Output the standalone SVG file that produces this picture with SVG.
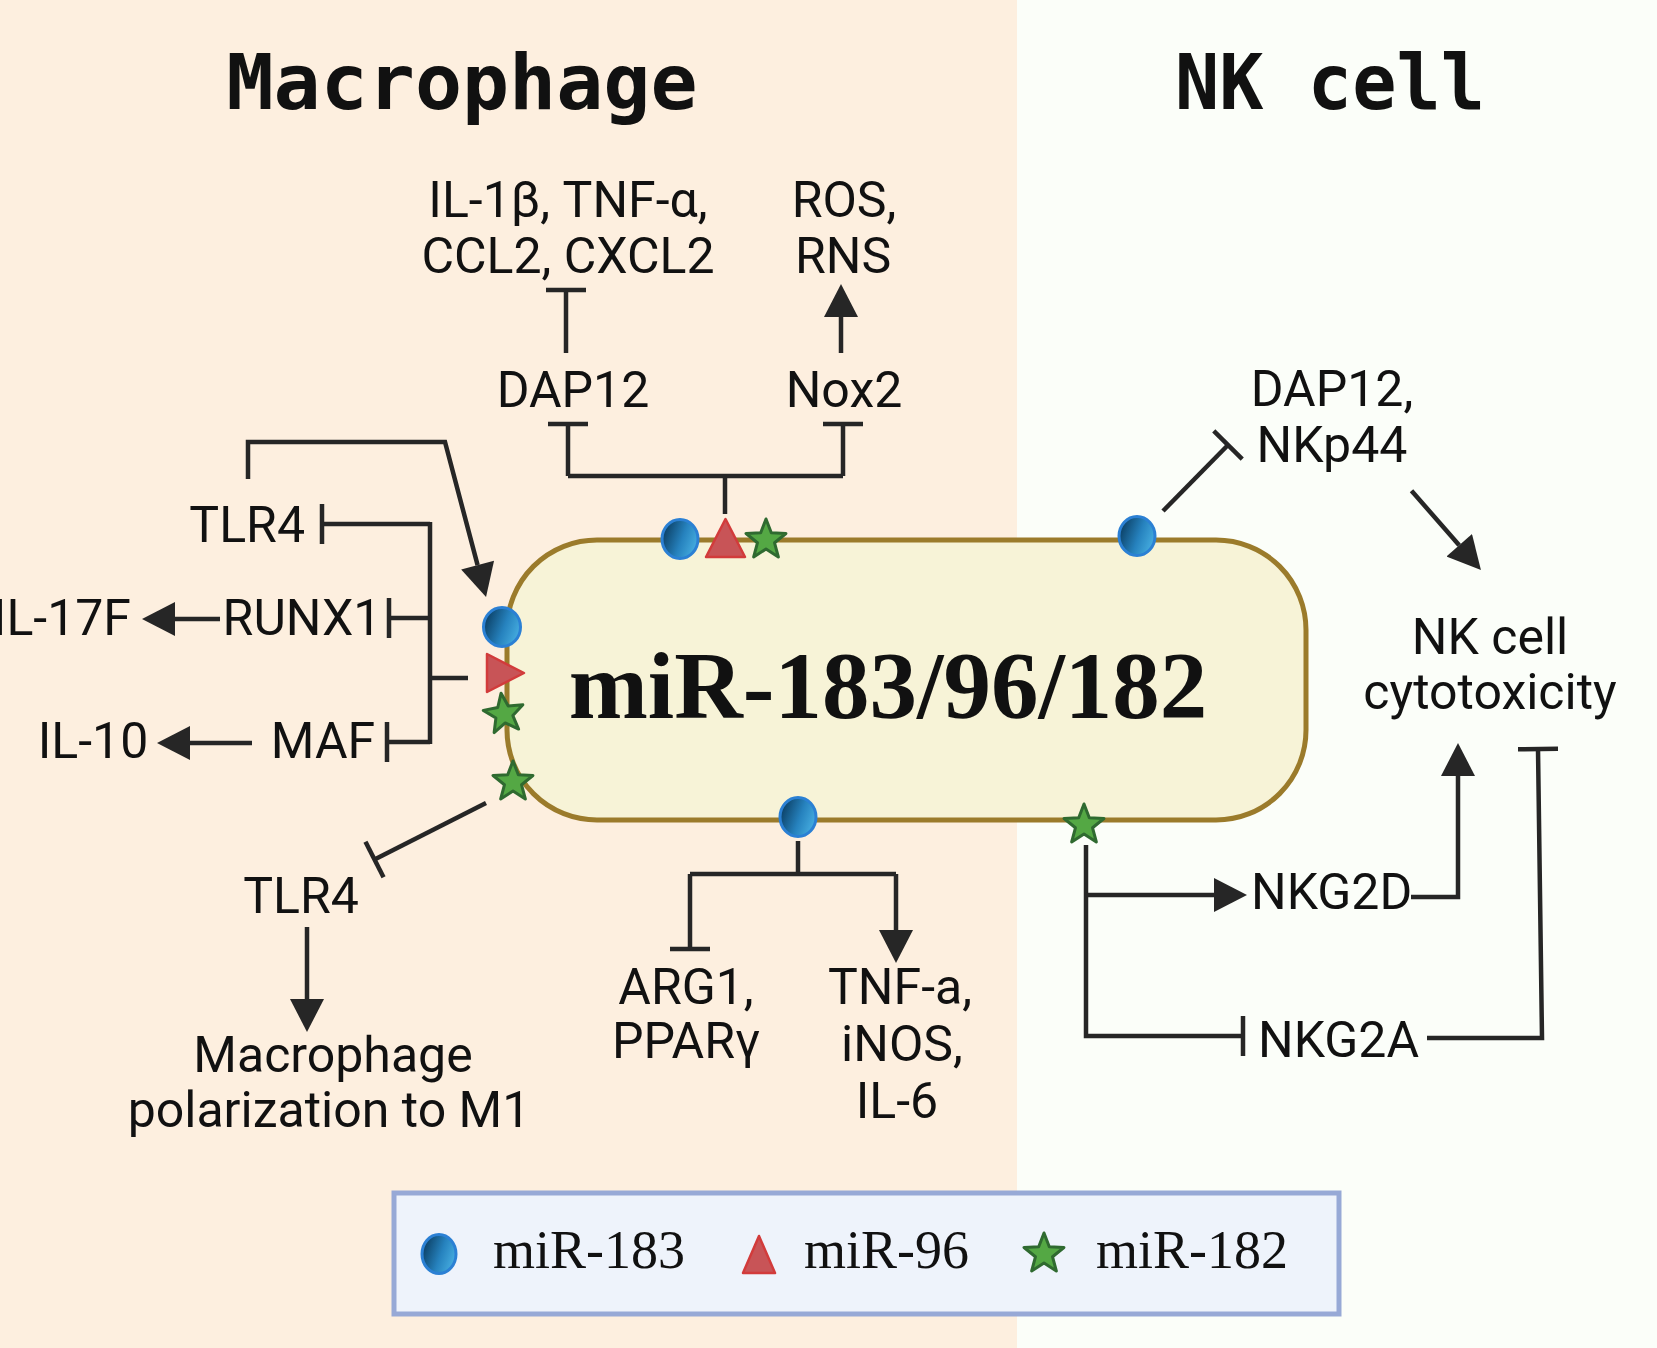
<svg xmlns="http://www.w3.org/2000/svg" width="1657" height="1348" viewBox="0 0 1657 1348">
<style>
.t{font-family:Roboto,"Liberation Sans",Arial,sans-serif;font-size:50px;fill:#111}
.title{font-family:"DejaVu Sans Mono","Liberation Mono",monospace;font-weight:bold;font-size:76px;fill:#111}
.lg{font-family:"Liberation Serif","Times New Roman",serif;font-size:54px;fill:#111}
.ln{fill:none;stroke:#262626;stroke-width:4.5}
.blue{fill:url(#bg);stroke:#2b80d4;stroke-width:3}
.tri{fill:#c85457;stroke:#d23b3b;stroke-width:2.5;stroke-linejoin:round}
.star{fill:#54a844;stroke:#2f6a30;stroke-width:3;stroke-linejoin:round}
</style>
<defs>
<linearGradient id="bg" x1="0" y1="0.3" x2="1" y2="0.7">
<stop offset="0" stop-color="#0a3c60"/>
<stop offset="0.55" stop-color="#2682be"/>
<stop offset="1" stop-color="#48b0e2"/>
</linearGradient>
<marker id="arr" markerUnits="userSpaceOnUse" markerWidth="34" markerHeight="34" viewBox="0 0 33 34" refX="0" refY="17" orient="auto">
<path d="M0,0 L33,17 L0,34 z" fill="#262626"/>
</marker>
<marker id="inh" markerUnits="userSpaceOnUse" markerWidth="6" markerHeight="42" viewBox="-3 -21 6 42" refX="0" refY="0" orient="auto">
<path d="M0,-20 L0,20" stroke="#262626" stroke-width="4.5"/>
</marker>
<path id="starp" d="M0,-21 L5.29,-7.28 L19.97,-6.49 L8.56,2.78 L12.34,16.99 L0,9 L-12.34,16.99 L-8.56,2.78 L-19.97,-6.49 L-5.29,-7.28 Z"/>
</defs>

<rect x="0" y="0" width="1017" height="1348" fill="#fdefdf"/>
<rect x="1017" y="0" width="640" height="1348" fill="#fbfef9"/>

<g id="titles">
<text class="title" x="462" y="109" text-anchor="middle" textLength="471" lengthAdjust="spacingAndGlyphs">Macrophage</text>
<text class="title" x="1330" y="109" text-anchor="middle" textLength="310" lengthAdjust="spacingAndGlyphs">NK cell</text>
</g>

<g id="connectors">
<path class="ln" d="M566,353 L566,290" marker-end="url(#inh)"/>
<path class="ln" d="M841,353 L841,317" marker-end="url(#arr)"/>
<path class="ln" d="M725,514 L725,476"/>
<path class="ln" d="M568,476 L843,476"/>
<path class="ln" d="M568,476 L568,424" marker-end="url(#inh)"/>
<path class="ln" d="M843,476 L843,424" marker-end="url(#inh)"/>
<path class="ln" d="M248,479 L248,442 L445,442 L477.6,565.1" marker-end="url(#arr)"/>
<path class="ln" d="M430,524 L322,524" marker-end="url(#inh)"/>
<path class="ln" d="M430,522 L430,744"/>
<path class="ln" d="M430,618 L389,618" marker-end="url(#inh)"/>
<path class="ln" d="M430,742 L387,742" marker-end="url(#inh)"/>
<path class="ln" d="M430,678 L468,678"/>
<path class="ln" d="M220,619 L175,619" marker-end="url(#arr)"/>
<path class="ln" d="M252,743 L190,743" marker-end="url(#arr)"/>
<path class="ln" d="M486,803 L374.5,859.5" marker-end="url(#inh)"/>
<path class="ln" d="M307,927 L307,999" marker-end="url(#arr)"/>
<path class="ln" d="M798,841 L798,874"/>
<path class="ln" d="M690,874 L896,874"/>
<path class="ln" d="M690,874 L690,949" marker-end="url(#inh)"/>
<path class="ln" d="M896,874 L896,930" marker-end="url(#arr)"/>
<path class="ln" d="M1163,511 L1228,445" marker-end="url(#inh)"/>
<path class="ln" d="M1411.5,490.7 L1459.2,545.2" marker-end="url(#arr)"/>
<path class="ln" d="M1086,845 L1086,1036 L1243,1036" marker-end="url(#inh)"/>
<path class="ln" d="M1086,895 L1214,895" marker-end="url(#arr)"/>
<path class="ln" d="M1411,897 L1458,897 L1458,776" marker-end="url(#arr)"/>
<path class="ln" d="M1427,1038 L1542,1038 L1538,749" marker-end="url(#inh)"/>
</g>

<g id="node-mir">
<rect x="507" y="540" width="799" height="280" rx="90" ry="90" fill="#f7f3d7" stroke="#9b7b2b" stroke-width="5"/>
<text x="888" y="718" text-anchor="middle" font-family="'Liberation Serif','Times New Roman',serif" font-weight="bold" font-size="95" fill="#111">miR-183/96/182</text>
<ellipse class="blue" cx="680" cy="539" rx="18" ry="19.5"/>
<path class="tri" d="M725.5,519 L745,557 L706,557 Z"/>
<use href="#starp" class="star" transform="translate(766,540)"/>
<ellipse class="blue" cx="1137" cy="536" rx="18" ry="19.5"/>
<ellipse class="blue" cx="502" cy="627" rx="18.5" ry="19.5"/>
<path class="tri" d="M487,654 L524,673 L487,692 Z"/>
<use href="#starp" class="star" transform="translate(504,714) rotate(-8)"/>
<use href="#starp" class="star" transform="translate(513,782)"/>
<ellipse class="blue" cx="798" cy="817" rx="18" ry="19.5"/>
<use href="#starp" class="star" transform="translate(1084,825)"/>
</g>

<g id="node-il1b"><text class="t" x="568" y="217" text-anchor="middle">IL-1β, TNF-α,</text><text class="t" x="568" y="273" text-anchor="middle">CCL2, CXCL2</text></g>
<g id="node-ros"><text class="t" x="844" y="217" text-anchor="middle">ROS,</text><text class="t" x="843" y="273" text-anchor="middle">RNS</text></g>
<g id="node-dap12"><text class="t" x="573" y="407" text-anchor="middle">DAP12</text></g>
<g id="node-nox2"><text class="t" x="844" y="407" text-anchor="middle">Nox2</text></g>
<g id="node-tlr4a"><text class="t" x="305" y="542" text-anchor="end">TLR4</text></g>
<g id="node-runx1"><text class="t" x="302" y="635" text-anchor="middle">RUNX1</text></g>
<g id="node-il17f"><text class="t" x="131" y="635" text-anchor="end">IL-17F</text></g>
<g id="node-maf"><text class="t" x="323" y="758" text-anchor="middle">MAF</text></g>
<g id="node-il10"><text class="t" x="93" y="758" text-anchor="middle">IL-10</text></g>
<g id="node-tlr4b"><text class="t" x="301" y="913" text-anchor="middle">TLR4</text></g>
<g id="node-m1"><text class="t" x="333" y="1072" text-anchor="middle">Macrophage</text><text class="t" x="329" y="1127" text-anchor="middle">polarization to M1</text></g>
<g id="node-arg1"><text class="t" x="686" y="1004" text-anchor="middle">ARG1,</text><text class="t" x="686" y="1058" text-anchor="middle">PPARγ</text></g>
<g id="node-tnfa"><text class="t" x="900" y="1004" text-anchor="middle">TNF-a,</text><text class="t" x="902" y="1061" text-anchor="middle">iNOS,</text><text class="t" x="897" y="1118" text-anchor="middle">IL-6</text></g>
<g id="node-dap12nk"><text class="t" x="1332" y="406" text-anchor="middle">DAP12,</text><text class="t" x="1332" y="462" text-anchor="middle">NKp44</text></g>
<g id="node-cyto"><text class="t" x="1490" y="654" text-anchor="middle">NK cell</text><text class="t" x="1490" y="709" text-anchor="middle">cytotoxicity</text></g>
<g id="node-nkg2d"><text class="t" x="1251" y="909">NKG2D</text></g>
<g id="node-nkg2a"><text class="t" x="1258" y="1057">NKG2A</text></g>

<g id="legend">
<rect x="394" y="1193" width="945" height="121" fill="#eef3fb" stroke="#97a9d6" stroke-width="5"/>
<ellipse class="blue" cx="439" cy="1254" rx="17" ry="19.5"/>
<text class="lg" x="493" y="1268">miR-183</text>
<path class="tri" d="M759,1236 L775,1273 L743,1273 Z"/>
<text class="lg" x="804" y="1268">miR-96</text>
<use href="#starp" class="star" transform="translate(1044,1254)"/>
<text class="lg" x="1096" y="1268">miR-182</text>
</g>
</svg>
